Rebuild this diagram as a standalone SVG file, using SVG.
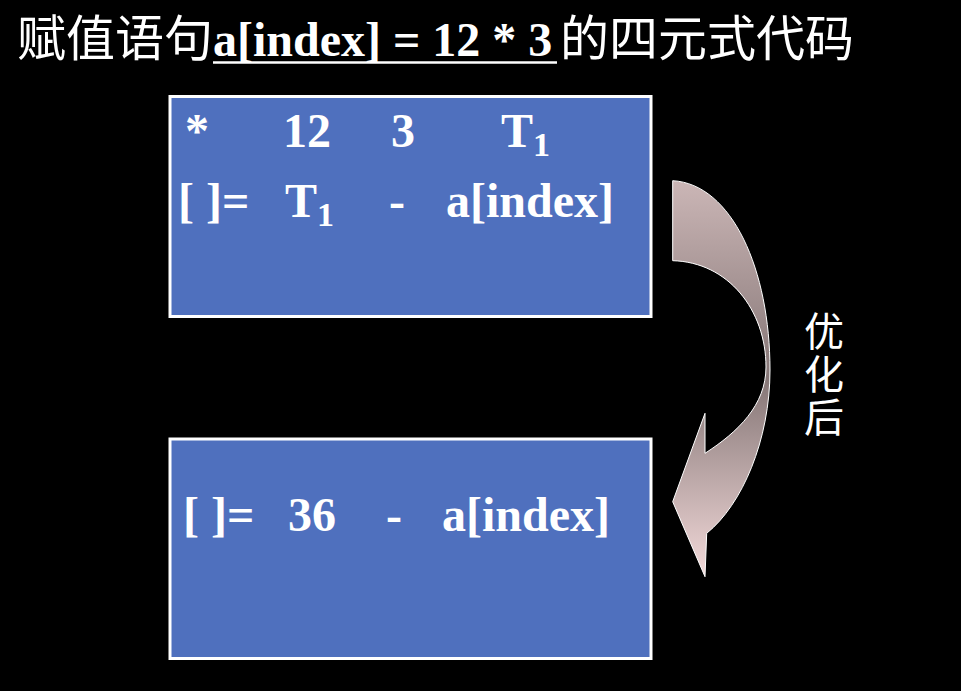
<svg xmlns="http://www.w3.org/2000/svg" width="961" height="691" viewBox="0 0 961 691">
<defs>
<linearGradient id="ag" x1="0" y1="0" x2="0" y2="1">
<stop offset="0" stop-color="#cbb6b6"/>
<stop offset="0.5" stop-color="#857676"/>
<stop offset="1" stop-color="#f3dada"/>
</linearGradient>
<style>
.box{fill:#4F70BE;stroke:#ffffff;stroke-width:3}
.t{font-family:"Liberation Serif","Times New Roman",serif;font-weight:bold;font-size:48px;fill:#ffffff}
.sub{font-size:34px}
.cjk{font-family:"Noto Sans CJK SC",sans-serif;fill:#ffffff}
</style>
</defs>
<rect width="961" height="691" fill="#000000"/>
<g id="title">
<text class="cjk" x="17" y="56" font-size="49">赋值语句</text>
<text class="t" x="213" y="56" font-size="49.6px">a[index] = 12 * 3</text>
<line x1="213" y1="62.5" x2="557" y2="62.5" stroke="#ffffff" stroke-width="2.5"/>
<text class="cjk" x="560" y="56" font-size="49">的四元式代码</text>
</g>
<g id="node-before">
<rect class="box" x="170" y="96.5" width="481" height="220"/>
<text class="t" x="185" y="147">*</text>
<text class="t" x="283" y="147">12</text>
<text class="t" x="391" y="147">3</text>
<text class="t" x="501" y="147">T<tspan class="sub" dy="9">1</tspan></text>
<text class="t" x="178" y="217">[ ]=</text>
<text class="t" x="285" y="217">T<tspan class="sub" dy="9">1</tspan></text>
<text class="t" x="389" y="217">-</text>
<text class="t" x="446" y="217">a[index]</text>
</g>
<g id="node-after">
<rect class="box" x="170" y="439" width="481" height="219.5"/>
<text class="t" x="183" y="531">[ ]=</text>
<text class="t" x="288" y="531">36</text>
<text class="t" x="386" y="531">-</text>
<text class="t" x="442" y="531">a[index]</text>
</g>
<g id="connectors">
<path d="M672.7,180.7 C732,184 770,270 770,370 C770,440 742,505 706.7,533.3 L705,576.7 L672.7,501.7 L705,413.3 L705,453.3 C738,432 766,405 766,367 C766,310 728,262 672.7,260.7 Z" fill="url(#ag)" stroke="#ffffff" stroke-width="1"/>
</g>
<g id="label">
<text class="cjk" x="824" y="311" font-size="40" writing-mode="vertical-rl" letter-spacing="3">优化后</text>
</g>
</svg>
